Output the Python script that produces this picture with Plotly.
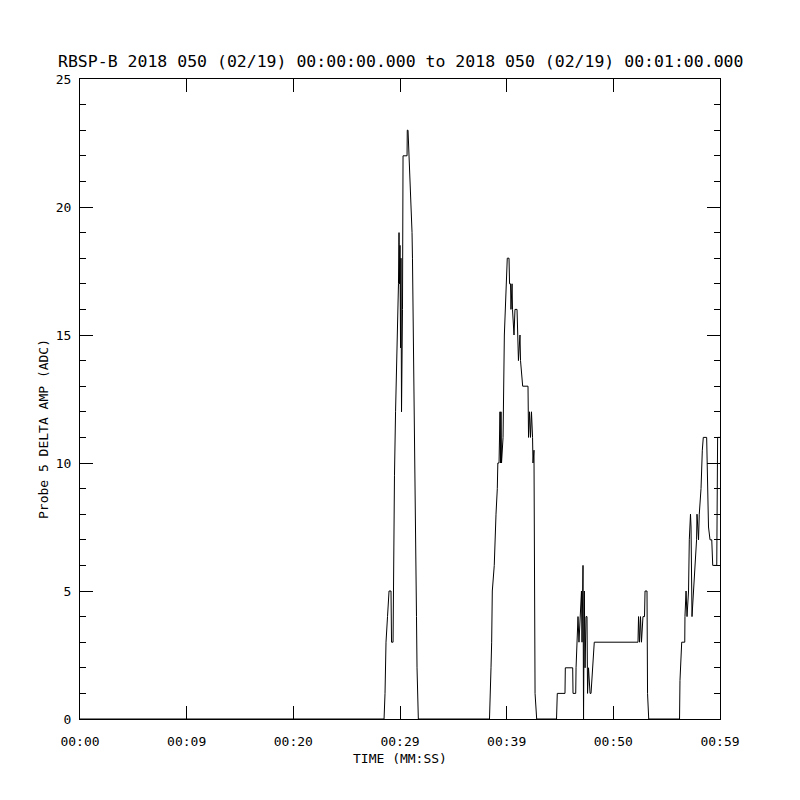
import plotly.graph_objects as go

# ---- data (seconds after 00:00:00, ADC counts) ----
quiet_t = [0.0, 28.03]
quiet_v = [0, 0]

peak1_t = [28.12, 28.21, 28.35, 28.49, 28.67, 28.72, 28.86, 28.90, 28.99, 29.09,
           29.16, 29.27, 29.36, 29.41, 29.45, 29.50, 29.55, 29.59, 29.64, 29.73,
           29.78, 30.15, 30.17, 30.24, 30.33, 30.42, 30.51, 30.61, 30.65, 30.79,
           30.86, 31.02, 31.07, 31.19]
peak1_v = [1, 3, 4, 5, 5, 3, 3, 7, 9.5, 12,
           13.5, 14.5, 17, 19, 17, 18.5, 14.5, 18, 12, 16,
           22, 22, 23, 23, 22, 21, 20.5, 19, 18, 12,
           8, 4, 2, 0]

gap1_t = [37.75]
gap1_v = [0]

peak2_t = [37.84, 37.89, 37.95, 38.01, 38.19, 38.24, 38.35, 38.47, 38.52, 38.63,
           38.67, 38.72, 38.77, 38.81, 38.86, 39.00, 39.12, 39.32, 39.39, 39.55,
           39.60, 39.69, 39.73, 39.83, 39.87, 40.01, 40.10, 40.29, 40.33, 40.42,
           40.56, 40.61, 40.81, 41.30, 41.35, 41.44, 41.53, 41.62, 41.72, 41.76,
           41.85, 41.88, 41.95, 42.10]
peak2_v = [1, 2, 3, 5, 6, 7, 8, 9, 10, 10,
           11, 12, 10, 12, 10, 11, 15, 17, 18, 18,
           17, 17, 16, 17, 16, 15, 16, 16, 15, 14,
           15, 14, 13, 13, 11, 12, 11, 12, 11, 10,
           10.5, 8, 1, 0]

gap2_t = [43.93]
gap2_v = [0]

peak3_t = [44.00, 44.71, 44.74, 45.42, 45.45, 45.70, 45.73, 45.82, 45.91, 46.00,
           46.10, 46.23, 46.28, 46.37, 46.42, 46.49, 46.56, 46.65, 46.74, 46.79,
           46.88, 47.02, 47.11, 47.25, 47.41, 51.44, 51.49, 51.58, 51.67, 51.76,
           51.90, 52.04, 52.09, 52.27, 52.32, 52.43]
peak3_v = [1, 1, 2, 2, 1, 1, 2, 3, 4, 3,
           4, 5, 3, 6, 0, 5, 2, 4, 4, 1,
           2, 1, 1, 2, 3, 3, 4, 3, 4, 3,
           4, 4, 5, 5, 1, 0]

gap3_t = [55.27]
gap3_v = [0]

peak4_t = [55.31, 55.41, 55.47, 55.75, 55.77, 55.87, 55.96, 56.10, 56.17, 56.28,
           56.33, 56.42, 56.54, 56.60, 56.84, 56.88, 57.02, 57.09, 57.25, 57.37,
           57.46, 57.77, 57.87, 57.94, 58.08, 58.24, 58.33, 58.70, 58.78, 59.00]
peak4_v = [1.5, 3, 3, 3, 4, 5, 4, 5, 7, 8,
           7.5, 4, 5, 5, 7, 8, 7, 8, 9, 10.5,
           11, 11, 8, 7.5, 7, 7, 6, 6, 11, 11]

x_tick_vals = [0, 59 / 6, 2 * 59 / 6, 3 * 59 / 6, 4 * 59 / 6, 5 * 59 / 6, 59]
x_tick_text = ["00:00", "00:09", "00:20", "00:29", "00:39", "00:50", "00:59"]
y_tick_vals = [0, 5, 10, 15, 20, 25]

title_text = "RBSP-B 2018 050 (02/19) 00:00:00.000 to 2018 050 (02/19) 00:01:00.000"
x_title = "TIME (MM:SS)"
y_title = "Probe 5 DELTA AMP (ADC)"

time_s = quiet_t + peak1_t + gap1_t + peak2_t + gap2_t + peak3_t + gap3_t + peak4_t
amp = quiet_v + peak1_v + gap1_v + peak2_v + gap2_v + peak3_v + gap3_v + peak4_v

FONT = "DejaVu Sans Mono"

fig = go.Figure()
fig.add_trace(go.Scatter(x=time_s, y=amp, mode="lines",
                         line=dict(color="black", width=1), hoverinfo="skip"))

# page body has an 8px margin: figure is 792x792 so the plot box lands at 80..720
fig.update_layout(
    width=792, height=792,
    margin=dict(l=72, r=80, t=71, b=81, autoexpand=False),
    paper_bgcolor="white", plot_bgcolor="white",
    showlegend=False,
    font=dict(family=FONT, size=13, color="black"),
)

fig.update_xaxes(
    range=[0, 59], showgrid=False, zeroline=False,
    showline=True, linecolor="black", linewidth=1, mirror="allticks",
    ticks="inside", ticklen=13, tickwidth=1, tickcolor="black",
    tickvals=x_tick_vals, ticktext=x_tick_text,
    ticklabelstandoff=10,
    tickfont=dict(family=FONT, size=13),
)
fig.update_yaxes(
    range=[0, 25], showgrid=False, zeroline=False,
    showline=True, linecolor="black", linewidth=1, mirror="allticks",
    ticks="inside", ticklen=13, tickwidth=1, tickcolor="black",
    tickvals=y_tick_vals,
    minor=dict(ticks="inside", ticklen=6, dtick=1, tickcolor="black", showgrid=False),
    ticklabelstandoff=5,
    tickfont=dict(family=FONT, size=13),
)

fig.add_annotation(text=title_text, xref="paper", yref="paper",
                   x=0.5, y=(719 - 62) / 640, xanchor="center", yanchor="middle",
                   showarrow=False, font=dict(family=FONT, size=16.5))
fig.add_annotation(text=x_title, xref="paper", yref="paper",
                   x=0.5, y=(719 - 758) / 640, xanchor="center", yanchor="middle",
                   showarrow=False, font=dict(family=FONT, size=13))
fig.add_annotation(text=y_title, xref="paper", yref="paper",
                   x=(43 - 80) / 640, y=(719 - 429) / 640, xanchor="center", yanchor="middle",
                   textangle=-90, showarrow=False, font=dict(family=FONT, size=13))

fig.write_html("out.html")
